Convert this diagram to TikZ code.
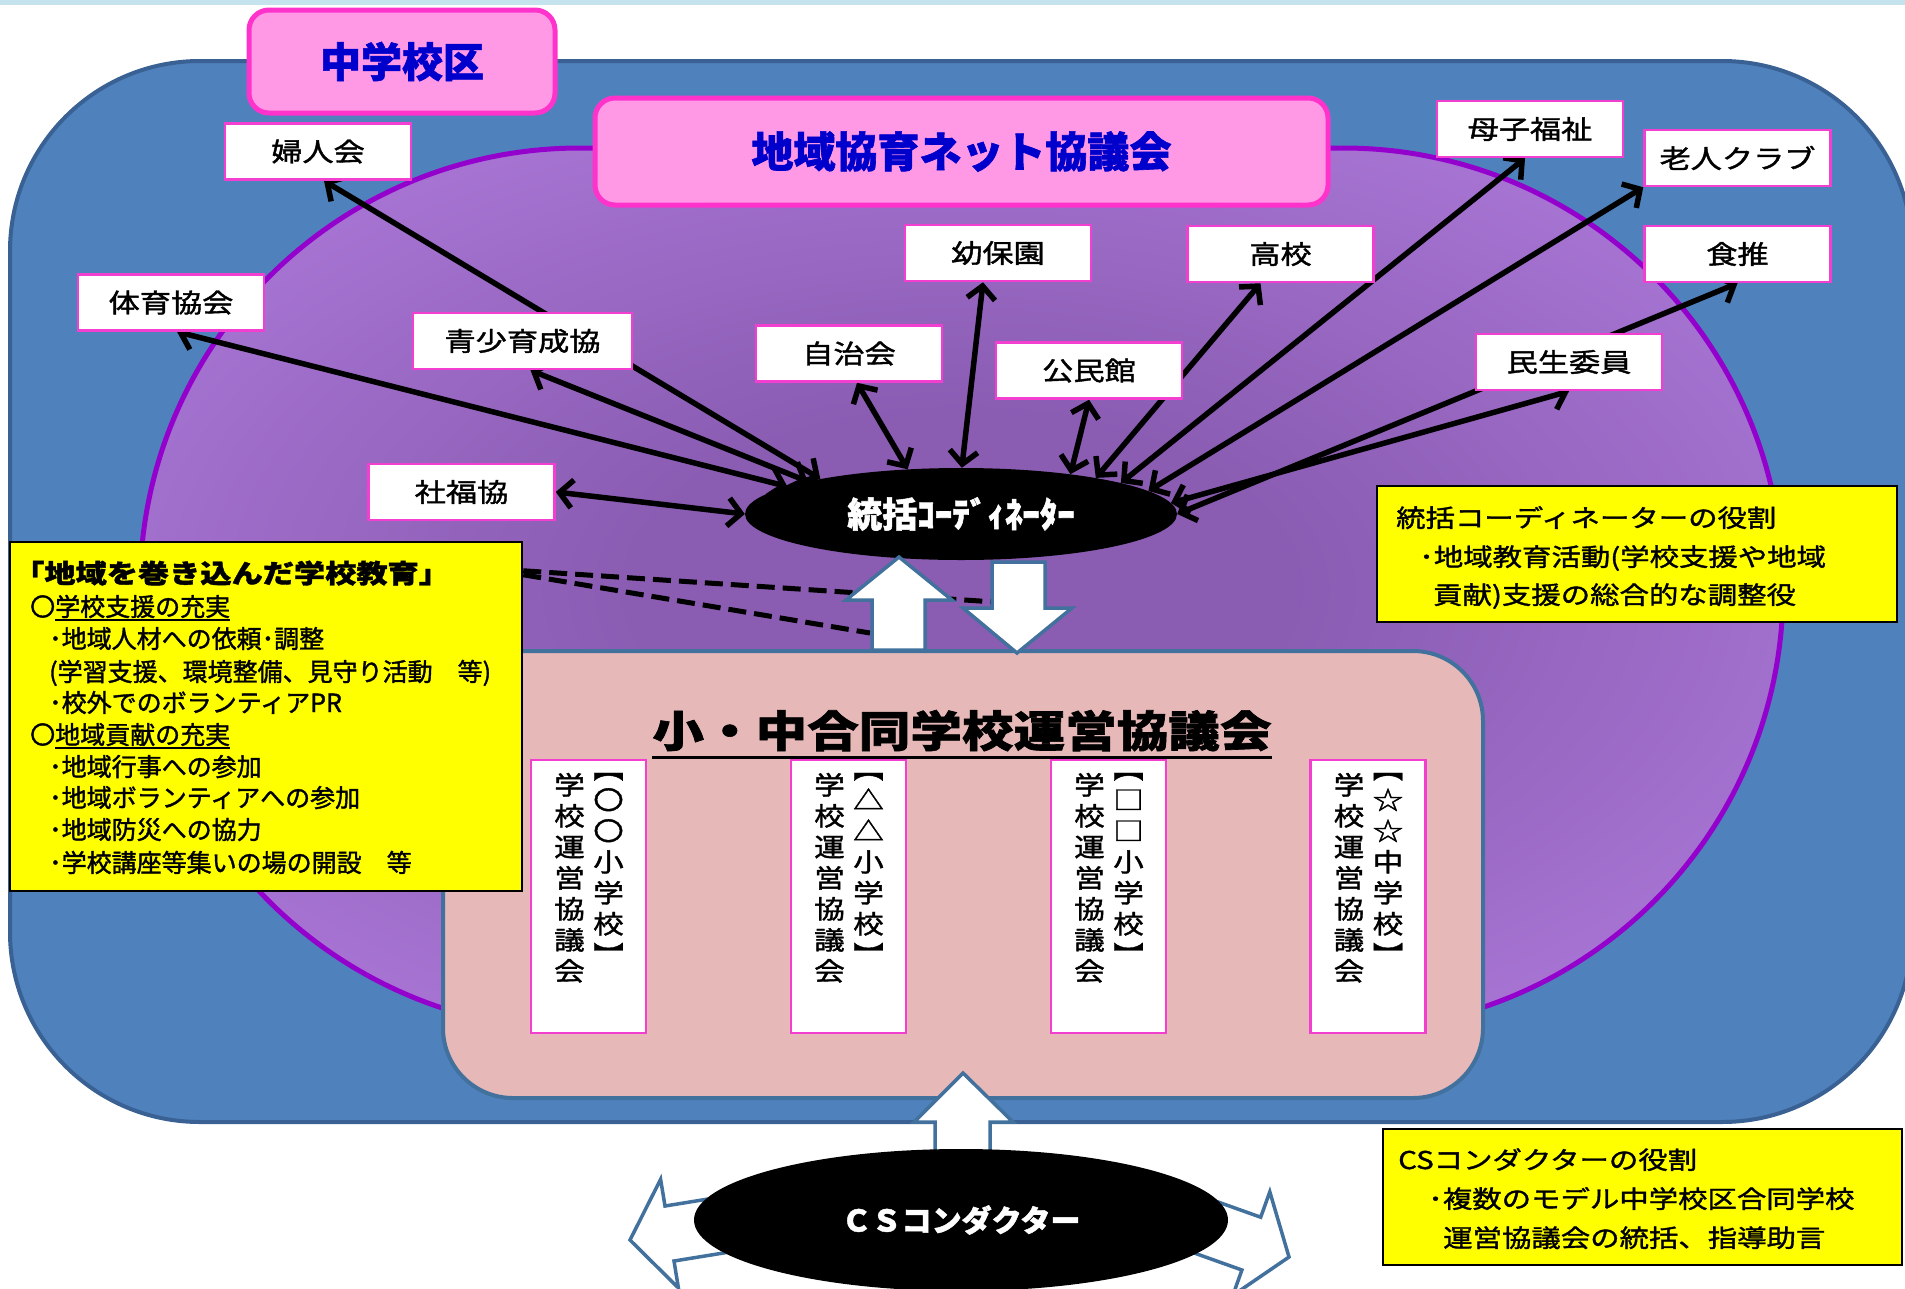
\documentclass[tikz,border=0pt]{standalone}
\usepackage{fontspec}
\setmainfont{Noto Sans CJK JP}
\newfontfamily\cjk{Noto Sans CJK JP}[FakeBold=1.5]
\newfontfamily\cjkw{Noto Sans CJK JP}[FakeStretch=1.2,FakeBold=1.5]
\usetikzlibrary{shapes.geometric,arrows.meta}
\definecolor{bluefill}{HTML}{4F81BD}
\definecolor{blueedge}{HTML}{3A6193}
\definecolor{plight}{HTML}{C48CF4}
\definecolor{pdark}{HTML}{8A5CB2}
\definecolor{pedge}{HTML}{9400CC}
\definecolor{hdrfill}{HTML}{FF99E6}
\definecolor{hdredge}{HTML}{FF33CC}
\definecolor{txtblue}{HTML}{0000CC}
\definecolor{councilfill}{HTML}{E6B9B8}
\definecolor{counciledge}{HTML}{41719C}
\definecolor{boxedge}{HTML}{F23FD0}
\definecolor{topline}{HTML}{C5E3EC}
\definecolor{yel}{HTML}{FFFF00}
\pgfdeclareradialshading{purpshade}{\pgfpoint{0bp}{0bp}}{color(0bp)=(pdark); color(10bp)=(pdark); color(48bp)=(plight); color(75bp)=(plight)}
\newcommand\myul[1]{\setbox0=\hbox{#1}\rlap{\rule[-5pt]{\wd0}{1.6pt}}\box0}
\tikzset{
  hdr/.style={rectangle, rounded corners=20pt, fill=hdrfill, draw=hdredge, line width=5pt, text=txtblue, inner sep=0pt, font=\cjk\bfseries\fontsize{41}{41}\selectfont},
  sbox/.style={rectangle, fill=white, draw=boxedge, line width=2.5pt, minimum width=186pt, minimum height=56pt, inner sep=0pt, font=\cjkw\fontsize{26}{26}\selectfont},
  vbox/.style={rectangle, fill=white, draw=boxedge, line width=2.5pt, minimum width=115pt, minimum height=273pt, inner sep=0pt},
  vcol/.style={align=center, inner sep=0pt, anchor=north, font=\cjkw\fontsize{25.5}{31}\selectfont},
  conn/.style={line width=5.5pt, black, {Straight Barb[length=13pt,width=28pt]}-{Straight Barb[length=13pt,width=28pt]}},
  ybox/.style={rectangle, fill=yel, draw=black, line width=2.5pt, inner sep=0pt},
  ltxt/.style={anchor=base west, inner sep=0pt, font=\cjk\fontsize{25}{25}\selectfont},
  rtxt/.style={anchor=base west, inner sep=0pt, font=\cjkw\fontsize{24.5}{24.5}\selectfont},
  blockarrow/.style={fill=white, draw=counciledge, line width=3.5pt, line join=miter},
  dashline/.style={line width=5pt, black, dash pattern=on 18pt off 8pt},
}
\begin{document}
\begin{tikzpicture}[x=1pt,y=-1pt]
\useasboundingbox (0,0) rectangle (1905,1288);
\fill[white] (0,0) rectangle (1905,1288);
\fill[topline] (0,0) rectangle (1905,5);
% outer blue region
\draw[fill=bluefill, draw=blueedge, line width=4pt, rounded corners=190pt] (10,61) rectangle (1912,1122);
% purple region
\path[shading=purpshade, draw=pedge, line width=5pt, rounded corners=440pt] (140,148) rectangle (1783,1030);

% coordinator ellipse
\node[ellipse, fill=black, minimum width=432pt, minimum height=92pt, inner sep=0pt, text=white, font=\cjk\bfseries\fontsize{35}{35}\selectfont] (coord) at (961,514) {統括ｺｰﾃﾞｨﾈｰﾀｰ};

% organisation boxes (positions)
\node[sbox] (fujin) at (318,151.5) {婦人会};
\node[sbox] (taiiku) at (171,302.5) {体育協会};
\node[sbox, minimum width=219pt] (seisho) at (522.5,341) {青少育成協};
\node[sbox] (jichi) at (849,353.5) {自治会};
\node[sbox] (yoho) at (998,253) {幼保園};
\node[sbox] (koko) at (1280.5,254) {高校};
\node[sbox] (komin) at (1089,370.5) {公民館};
\node[sbox] (boshi) at (1530,129) {母子福祉};
\node[sbox] (rojin) at (1737.5,158) {老人クラブ};
\node[sbox] (shoku) at (1737.5,254) {食推};
\node[sbox] (minsei) at (1569,362) {民生委員};
\node[sbox] (shafuku) at (461.5,492) {社福協};

% connectors
\draw[conn] ([xshift=6pt]fujin.south) -- (coord.166);
\draw[conn] ([xshift=6pt]taiiku.south) -- (coord.171);
\draw[conn] ([xshift=8pt]seisho.south) -- (coord.168);
\draw[conn] ([xshift=8pt]jichi.south) -- (coord.140);
\draw[conn] ([xshift=-15pt]yoho.south) -- (coord.89);
\draw[conn] (komin.south) -- (coord.20);
\draw[conn] ([xshift=-20pt]koko.south) -- (coord.15);
\draw[conn] ([xshift=-5pt]boshi.south) -- (coord.11);
\draw[conn] (rojin.south west) -- (coord.7);
\draw[conn] (minsei.south) -- (coord.3);
\draw[conn] (shoku.south) -- (coord.0);
\draw[conn] (shafuku.east) -- (coord.180);

% redraw boxes over the lines
\node[sbox] at (fujin) {婦人会};
\node[sbox] at (taiiku) {体育協会};
\node[sbox, minimum width=219pt] at (seisho) {青少育成協};
\node[sbox] at (jichi) {自治会};
\node[sbox] at (yoho) {幼保園};
\node[sbox] at (koko) {高校};
\node[sbox] at (komin) {公民館};
\node[sbox] at (boshi) {母子福祉};
\node[sbox] at (rojin) {老人クラブ};
\node[sbox] at (shoku) {食推};
\node[sbox] at (minsei) {民生委員};
\node[sbox] at (shafuku) {社福協};

% headers
\node[hdr, minimum width=733pt, minimum height=107pt, font=\cjk\bfseries\fontsize{42}{42}\selectfont] (net) at (961.5,151.5) {地域協育ネット協議会};
\node[hdr, minimum width=306pt, minimum height=103pt] (chugaku) at (402,61.5) {中学校区};

% council box
\node[rectangle, rounded corners=70pt, fill=councilfill, draw=counciledge, line width=4pt, minimum width=1040pt, minimum height=447pt, inner sep=0pt] (council) at (963,874.5) {};
\node[anchor=base, inner sep=0pt, font=\cjkw\bfseries\fontsize{43}{43}\selectfont] (title) at (962,747) {小・中合同学校運営協議会};
\draw[line width=3pt] ([yshift=-10pt]title.base west) -- ([yshift=-10pt]title.base east);

\node[vbox] (vb1) at (588.5,896.5) {};
\node[vbox] (vb2) at (848.5,896.5) {};
\node[vbox] (vb3) at (1108.5,896.5) {};
\node[vbox] (vb4) at (1368,896.5) {};
\foreach \b/\m/\k in {vb1/〇/小, vb2/△/小, vb3/□/小, vb4/☆/中}{
  \node[vcol] (\b r) at ([xshift=20pt,yshift=-14pt]\b.north) {︻\\\m\\\m\\\k\\学\\校\\︼};
  \node[vcol] (\b l) at ([xshift=-19pt,yshift=-14pt]\b.north) {学\\校\\運\\営\\協\\議\\会};
}

% left yellow box
\node[ybox, minimum width=512pt, minimum height=349pt] (yb1) at (266,716.5) {};
\coordinate (dA) at (995,602);
\coordinate (dB) at (870,633);
\draw[dashline] ([yshift=-30pt]yb1.north east) -- (dA);
\draw[dashline] ([yshift=-34pt]yb1.north east) -- (dB);

% block arrows between coordinator and council
\draw[blockarrow] (872,650) -- (872,600) -- (846,600) -- (899,557) -- (952,600) -- (925,600) -- (925,650) -- cycle;
\draw[blockarrow] (992,562) -- (1045,562) -- (1045,608) -- (1072,608) -- (1017,653) -- (963,608) -- (992,608) -- cycle;

\node[ltxt, font=\cjkw\bfseries\fontsize{26}{26}\selectfont] (h0) at (13,583) {「地域を巻き込んだ学校教育」};
\node[ltxt] (l1) at (30,616) {〇\myul{学校支援の充実}};
\node[ltxt] (l2) at (49,648) {･地域人材への依頼･調整};
\node[ltxt] (l3) at (49,681) {(学習支援、環境整備、見守り活動　等)};
\node[ltxt] (l4) at (49,712) {･校外でのボランティアPR};
\node[ltxt] (l5) at (30,744) {〇\myul{地域貢献の充実}};
\node[ltxt] (l6) at (49,776) {･地域行事への参加};
\node[ltxt] (l7) at (49,807) {･地域ボランティアへの参加};
\node[ltxt] (l8) at (49,839) {･地域防災への協力};
\node[ltxt] (l9) at (49,872) {･学校講座等集いの場の開設　等};

% right yellow box
\node[ybox, minimum width=520pt, minimum height=136pt] (yb2) at (1637,554) {};
\node[rtxt] (r1) at (1396,527) {統括コーディネーターの役割};
\node[rtxt] (r2) at (1419,566) {･地域教育活動(学校支援や地域};
\node[rtxt] (r3) at (1433,604) {貢献)支援の総合的な調整役};

% CS conductor
\draw[blockarrow] (935,1165) -- (935,1122) -- (914,1122) -- (963,1073) -- (1013,1122) -- (990,1122) -- (990,1165) -- cycle;
\draw[blockarrow] (813,1182) -- (665,1206) -- (660.6,1179.3) -- (630,1240) -- (678.4,1287.9) -- (674,1261) -- (822,1237) -- cycle;
\draw[blockarrow] (1119.4,1166.8) -- (1260.7,1217.2) -- (1269.8,1191.8) -- (1289,1257) -- (1232.8,1295.4) -- (1241.9,1270) -- (1100.6,1219.6) -- cycle;
\node[ellipse, fill=black, minimum width=534pt, minimum height=142pt, inner sep=0pt, text=white, font=\cjk\bfseries\fontsize{30}{30}\selectfont] (cs) at (961,1220) {ＣＳコンダクター};

\node[ybox, minimum width=519pt, minimum height=136pt] (yb3) at (1642.5,1197) {};
\node[rtxt] (c1) at (1398,1169) {CSコンダクターの役割};
\node[rtxt] (c2) at (1428,1208) {･複数のモデル中学校区合同学校};
\node[rtxt] (c3) at (1443,1247) {運営協議会の統括、指導助言};
\end{tikzpicture}
\end{document}
